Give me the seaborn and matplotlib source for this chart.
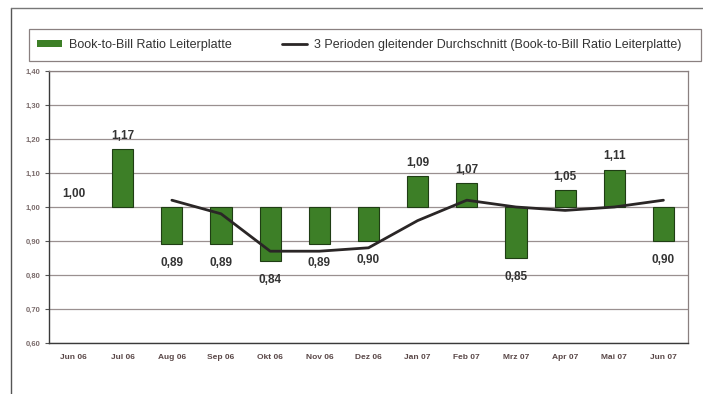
import matplotlib
matplotlib.use("Agg")
import matplotlib.pyplot as plt
import seaborn as sns
import pandas as pd
from matplotlib.lines import Line2D
from matplotlib.patches import Rectangle

# ---- data ----
months = ["Jun 06", "Jul 06", "Aug 06", "Sep 06", "Okt 06", "Nov 06", "Dez 06",
          "Jan 07", "Feb 07", "Mrz 07", "Apr 07", "Mai 07", "Jun 07"]
ratio = [1.00, 1.17, 0.89, 0.89, 0.84, 0.89, 0.90, 1.09, 1.07, 0.85, 1.05, 1.11, 0.90]
ma_months = ["Aug 06", "Sep 06", "Okt 06", "Nov 06", "Dez 06", "Jan 07",
             "Feb 07", "Mrz 07", "Apr 07", "Mai 07", "Jun 07"]
ma_values = [1.02, 0.98, 0.87, 0.87, 0.88, 0.96, 1.02, 1.00, 0.99, 1.00, 1.02]
yticks = [0.60, 0.70, 0.80, 0.90, 1.00, 1.10, 1.20, 1.30, 1.40]
ytick_labels = ["0,60", "0,70", "0,80", "0,90", "1,00", "1,10", "1,20", "1,30", "1,40"]
baseline = 1.00
bar_label = "Book-to-Bill Ratio Leiterplatte"
line_label = "3 Perioden gleitender Durchschnitt (Book-to-Bill Ratio Leiterplatte)"

sns.set_theme(style="white")
plt.rcParams["font.family"] = ["Liberation Sans", "DejaVu Sans"]

fig = plt.figure(figsize=(7.03, 3.94), dpi=100)
fig.patch.set_facecolor("white")
ax = fig.add_axes([49 / 703, 1 - 343 / 394, (688 - 49) / 703, (343 - 71) / 394])

df = pd.DataFrame({"month": months, "ratio": ratio})
df["delta"] = df["ratio"] - baseline

sns.barplot(data=df, x="month", y="delta", order=months, bottom=baseline,
            color="#3d7f27", saturation=1, edgecolor="#1f3d14", linewidth=0.8,
            width=0.43, errorbar=None, ax=ax, label=bar_label, zorder=3)
# hide outline of zero-height bars
for patch in ax.patches:
    if abs(patch.get_height()) < 1e-9:
        patch.set_linewidth(0)

pos = {m: i for i, m in enumerate(months)}
ma_df = pd.DataFrame({"x": [pos[m] for m in ma_months], "y": ma_values})
sns.lineplot(data=ma_df, x="x", y="y", color="#2a2626", linewidth=2.0,
             sort=False, ax=ax, label=line_label, zorder=4)

# value labels
for i, v in enumerate(ratio):
    txt = f"{v:.2f}".replace(".", ",")
    off = 9.5 if v >= baseline else -13.5
    ax.annotate(txt, (i, v), xytext=(0, off), textcoords="offset points",
                ha="center", va="center", fontsize=8.5, fontweight="bold",
                color="#333333", zorder=5)

ax.set_xlim(-0.5, len(months) - 0.5)
ax.set_ylim(yticks[0], yticks[-1])
ax.set_yticks(yticks)
ax.set_yticklabels(ytick_labels, fontsize=5.5, fontweight="bold", color="#7a6b6b")
ax.set_xticks(range(len(months)))
ax.set_xticklabels(months, fontsize=6, fontweight="bold", color="#5a4848")
ax.set_xlabel("")
ax.set_ylabel("")
ax.tick_params(axis="y", length=3, width=0.8, color="#555555", pad=3, left=True)
ax.tick_params(axis="x", length=0, pad=8)
ax.grid(axis="y", color="#9a9090", linewidth=0.9, zorder=0)
ax.set_axisbelow(True)
for side in ["left", "bottom"]:
    ax.spines[side].set_color("#3a3a3a")
    ax.spines[side].set_linewidth(1.0)
for side in ["right", "top"]:
    ax.spines[side].set_color("#8a8080")
    ax.spines[side].set_linewidth(0.9)

handles, labels = ax.get_legend_handles_labels()
if ax.get_legend() is not None:
    ax.get_legend().remove()
order = [labels.index(bar_label), labels.index(line_label)]
handles = [handles[k] for k in order]
labels = [labels[k] for k in order]

# legend frame spanning the chart width
fig.add_artist(Rectangle((29 / 703, 1 - 61 / 394), 672 / 703, 32 / 394,
                         transform=fig.transFigure, fill=False,
                         edgecolor="#8a8080", linewidth=0.9))
leg = fig.legend(handles, labels, loc="center left",
                 bbox_to_anchor=(34 / 703, 1 - 45 / 394),
                 ncol=2, frameon=False, fontsize=9, handlelength=2.0,
                 handleheight=0.5, handletextpad=0.6, columnspacing=4.0,
                 borderaxespad=0, borderpad=0.2)
for t in leg.get_texts():
    t.set_color("#333333")

# outer border
fig.add_artist(Line2D([11 / 703, 11 / 703], [0, 1 - 8 / 394], transform=fig.transFigure,
                      color="#555555", linewidth=1.0))
fig.add_artist(Line2D([11 / 703, 1], [1 - 8 / 394, 1 - 8 / 394], transform=fig.transFigure,
                      color="#777777", linewidth=1.0))

fig.savefig("out.png", dpi=100)
